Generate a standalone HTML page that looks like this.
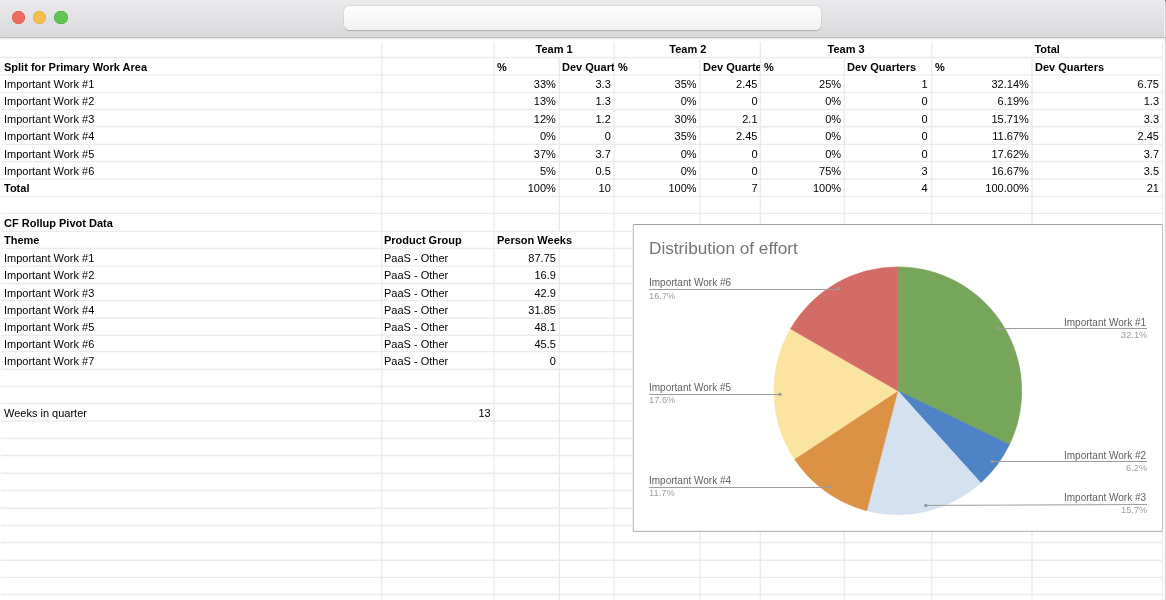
<!DOCTYPE html>
<html><head><meta charset="utf-8"><title>Sheet</title>
<style>
*{box-sizing:border-box;margin:0;padding:0}
html,body{width:1166px;height:600px;overflow:hidden;background:#fff}
body{position:relative;font-family:"Liberation Sans",sans-serif;-webkit-font-smoothing:antialiased}
.c,.ttl,.ln,.lp{will-change:transform}
.tb{position:absolute;left:0;top:0;width:1166px;height:38px;background:linear-gradient(#ebeaec,#d8d7d9);border-bottom:1px solid #bcbabd;box-shadow:0 0.5px 2px rgba(0,0,0,.13);z-index:5}
.dot{position:absolute;top:10.8px;width:13.4px;height:13.4px;border-radius:50%}
.addr{position:absolute;left:344px;top:6.2px;width:476.5px;height:24px;border-radius:5.5px;background:linear-gradient(#fdfdfd,#f0f0f0);box-shadow:0 0.5px 1px rgba(0,0,0,.18),0 0 0 0.5px rgba(0,0,0,.06)}
svg{position:absolute;left:0;top:0}
.c{position:absolute;font-size:11px;line-height:17.33px;height:17.33px;white-space:nowrap;color:#000}
.b{font-weight:bold}
.k{overflow:hidden}
.ttl{position:absolute;left:649px;top:236.7px;font-size:17.2px;color:#757575;white-space:nowrap;line-height:22px}
.ln{position:absolute;font-size:10px;color:#616161;white-space:nowrap;line-height:12px}
.lp{position:absolute;font-size:9.3px;color:#9e9e9e;white-space:nowrap;line-height:12px}
.r{text-align:right}
.edge{position:absolute;left:1164px;top:38px;width:2px;height:562px;background:#f7f7f7;border-right:1px solid #dcdcdc}
.tedge{position:absolute;left:1164px;top:0;width:2px;height:37px;background:#efeef1;border-right:1px solid #cfced3;z-index:6}
.tc{position:absolute;left:1165px;top:0;width:1px;height:2px;background:linear-gradient(#4f5a6e,#9aa0ab);z-index:7}
</style></head><body>
<div class="tb">
<div class="dot" style="left:11.7px;background:#ee6b60;box-shadow:inset 0 0 0 0.5px #d9544a"></div>
<div class="dot" style="left:32.8px;background:#f5bf4f;box-shadow:inset 0 0 0 0.5px #dba63a"></div>
<div class="dot" style="left:54.4px;background:#60c554;box-shadow:inset 0 0 0 0.5px #4cab40"></div>
<div class="addr"></div>
</div>
<div class="tedge"></div><div class="tc"></div>
<svg class="grid" width="1166" height="600" viewBox="0 0 1166 600"><g stroke="#eaecec" stroke-width="1.35"><line x1="1" y1="57.50" x2="1162.9" y2="57.50"/><line x1="1" y1="74.90" x2="1162.9" y2="74.90"/><line x1="1" y1="92.30" x2="1162.9" y2="92.30"/><line x1="1" y1="109.50" x2="1162.9" y2="109.50"/><line x1="1" y1="126.70" x2="1162.9" y2="126.70"/><line x1="1" y1="144.30" x2="1162.9" y2="144.30"/><line x1="1" y1="161.60" x2="1162.9" y2="161.60"/><line x1="1" y1="179.10" x2="1162.9" y2="179.10"/><line x1="1" y1="196.30" x2="1162.9" y2="196.30"/><line x1="1" y1="213.40" x2="1162.9" y2="213.40"/><line x1="1" y1="231.30" x2="1162.9" y2="231.30"/><line x1="1" y1="248.50" x2="1162.9" y2="248.50"/><line x1="1" y1="266.10" x2="1162.9" y2="266.10"/><line x1="1" y1="283.50" x2="1162.9" y2="283.50"/><line x1="1" y1="300.60" x2="1162.9" y2="300.60"/><line x1="1" y1="318.20" x2="1162.9" y2="318.20"/><line x1="1" y1="335.20" x2="1162.9" y2="335.20"/><line x1="1" y1="351.60" x2="1162.9" y2="351.60"/><line x1="1" y1="369.20" x2="1162.9" y2="369.20"/><line x1="1" y1="386.40" x2="1162.9" y2="386.40"/><line x1="1" y1="403.50" x2="1162.9" y2="403.50"/><line x1="1" y1="421.00" x2="1162.9" y2="421.00"/><line x1="1" y1="438.30" x2="1162.9" y2="438.30"/><line x1="1" y1="455.50" x2="1162.9" y2="455.50"/><line x1="1" y1="473.20" x2="1162.9" y2="473.20"/><line x1="1" y1="490.50" x2="1162.9" y2="490.50"/><line x1="1" y1="508.20" x2="1162.9" y2="508.20"/><line x1="1" y1="525.50" x2="1162.9" y2="525.50"/><line x1="1" y1="542.50" x2="1162.9" y2="542.50"/><line x1="1" y1="560.20" x2="1162.9" y2="560.20"/><line x1="1" y1="577.40" x2="1162.9" y2="577.40"/><line x1="1" y1="594.50" x2="1162.9" y2="594.50"/><line x1="381.80" y1="42.00" x2="381.80" y2="600.00"/><line x1="494.00" y1="42.00" x2="494.00" y2="600.00"/><line x1="559.30" y1="57.50" x2="559.30" y2="231.30"/><line x1="559.30" y1="248.50" x2="559.30" y2="600.00"/><line x1="614.00" y1="42.00" x2="614.00" y2="600.00"/><line x1="700.00" y1="57.50" x2="700.00" y2="600.00"/><line x1="760.30" y1="42.00" x2="760.30" y2="600.00"/><line x1="844.30" y1="57.50" x2="844.30" y2="600.00"/><line x1="931.70" y1="42.00" x2="931.70" y2="600.00"/><line x1="1032.00" y1="57.50" x2="1032.00" y2="600.00"/><line x1="1162.40" y1="42.00" x2="1162.40" y2="600.00"/></g></svg>
<div class="edge"></div>
<div class="c b" style="left:497.00px;width:114.20px;top:41.43px;text-align:center">Team 1</div><div class="c b" style="left:617.70px;width:139.60px;top:41.43px;text-align:center">Team 2</div><div class="c b" style="left:763.80px;width:164.30px;top:41.43px;text-align:center">Team 3</div><div class="c b" style="left:934.60px;width:224.30px;top:41.43px;text-align:center">Total</div><div class="c b" style="left:4.00px;top:58.83px">Split for Primary Work Area</div><div class="c b" style="left:497.00px;width:58.90px;top:58.83px;text-align:left">%</div><div class="c b k" style="left:562.40px;width:51.90px;top:58.83px;text-align:left">Dev Quarters</div><div class="c b" style="left:617.70px;width:78.60px;top:58.83px;text-align:left">%</div><div class="c b k" style="left:702.80px;width:57.20px;top:58.83px;text-align:left">Dev Quarters</div><div class="c b" style="left:763.80px;width:77.10px;top:58.83px;text-align:left">%</div><div class="c b" style="left:847.40px;width:80.70px;top:58.83px;text-align:left">Dev Quarters</div><div class="c b" style="left:934.60px;width:93.80px;top:58.83px;text-align:left">%</div><div class="c b" style="left:1034.90px;width:124.00px;top:58.83px;text-align:left">Dev Quarters</div><div class="c" style="left:4.00px;top:76.23px">Important Work #1</div><div class="c" style="left:497.00px;width:58.90px;top:76.23px;text-align:right">33%</div><div class="c" style="left:562.40px;width:48.80px;top:76.23px;text-align:right">3.3</div><div class="c" style="left:617.70px;width:78.60px;top:76.23px;text-align:right">35%</div><div class="c" style="left:702.80px;width:54.50px;top:76.23px;text-align:right">2.45</div><div class="c" style="left:763.80px;width:77.10px;top:76.23px;text-align:right">25%</div><div class="c" style="left:847.40px;width:80.70px;top:76.23px;text-align:right">1</div><div class="c" style="left:934.60px;width:93.80px;top:76.23px;text-align:right">32.14%</div><div class="c" style="left:1034.90px;width:124.00px;top:76.23px;text-align:right">6.75</div><div class="c" style="left:4.00px;top:93.43px">Important Work #2</div><div class="c" style="left:497.00px;width:58.90px;top:93.43px;text-align:right">13%</div><div class="c" style="left:562.40px;width:48.80px;top:93.43px;text-align:right">1.3</div><div class="c" style="left:617.70px;width:78.60px;top:93.43px;text-align:right">0%</div><div class="c" style="left:702.80px;width:54.50px;top:93.43px;text-align:right">0</div><div class="c" style="left:763.80px;width:77.10px;top:93.43px;text-align:right">0%</div><div class="c" style="left:847.40px;width:80.70px;top:93.43px;text-align:right">0</div><div class="c" style="left:934.60px;width:93.80px;top:93.43px;text-align:right">6.19%</div><div class="c" style="left:1034.90px;width:124.00px;top:93.43px;text-align:right">1.3</div><div class="c" style="left:4.00px;top:110.63px">Important Work #3</div><div class="c" style="left:497.00px;width:58.90px;top:110.63px;text-align:right">12%</div><div class="c" style="left:562.40px;width:48.80px;top:110.63px;text-align:right">1.2</div><div class="c" style="left:617.70px;width:78.60px;top:110.63px;text-align:right">30%</div><div class="c" style="left:702.80px;width:54.50px;top:110.63px;text-align:right">2.1</div><div class="c" style="left:763.80px;width:77.10px;top:110.63px;text-align:right">0%</div><div class="c" style="left:847.40px;width:80.70px;top:110.63px;text-align:right">0</div><div class="c" style="left:934.60px;width:93.80px;top:110.63px;text-align:right">15.71%</div><div class="c" style="left:1034.90px;width:124.00px;top:110.63px;text-align:right">3.3</div><div class="c" style="left:4.00px;top:128.23px">Important Work #4</div><div class="c" style="left:497.00px;width:58.90px;top:128.23px;text-align:right">0%</div><div class="c" style="left:562.40px;width:48.80px;top:128.23px;text-align:right">0</div><div class="c" style="left:617.70px;width:78.60px;top:128.23px;text-align:right">35%</div><div class="c" style="left:702.80px;width:54.50px;top:128.23px;text-align:right">2.45</div><div class="c" style="left:763.80px;width:77.10px;top:128.23px;text-align:right">0%</div><div class="c" style="left:847.40px;width:80.70px;top:128.23px;text-align:right">0</div><div class="c" style="left:934.60px;width:93.80px;top:128.23px;text-align:right">11.67%</div><div class="c" style="left:1034.90px;width:124.00px;top:128.23px;text-align:right">2.45</div><div class="c" style="left:4.00px;top:145.53px">Important Work #5</div><div class="c" style="left:497.00px;width:58.90px;top:145.53px;text-align:right">37%</div><div class="c" style="left:562.40px;width:48.80px;top:145.53px;text-align:right">3.7</div><div class="c" style="left:617.70px;width:78.60px;top:145.53px;text-align:right">0%</div><div class="c" style="left:702.80px;width:54.50px;top:145.53px;text-align:right">0</div><div class="c" style="left:763.80px;width:77.10px;top:145.53px;text-align:right">0%</div><div class="c" style="left:847.40px;width:80.70px;top:145.53px;text-align:right">0</div><div class="c" style="left:934.60px;width:93.80px;top:145.53px;text-align:right">17.62%</div><div class="c" style="left:1034.90px;width:124.00px;top:145.53px;text-align:right">3.7</div><div class="c" style="left:4.00px;top:163.03px">Important Work #6</div><div class="c" style="left:497.00px;width:58.90px;top:163.03px;text-align:right">5%</div><div class="c" style="left:562.40px;width:48.80px;top:163.03px;text-align:right">0.5</div><div class="c" style="left:617.70px;width:78.60px;top:163.03px;text-align:right">0%</div><div class="c" style="left:702.80px;width:54.50px;top:163.03px;text-align:right">0</div><div class="c" style="left:763.80px;width:77.10px;top:163.03px;text-align:right">75%</div><div class="c" style="left:847.40px;width:80.70px;top:163.03px;text-align:right">3</div><div class="c" style="left:934.60px;width:93.80px;top:163.03px;text-align:right">16.67%</div><div class="c" style="left:1034.90px;width:124.00px;top:163.03px;text-align:right">3.5</div><div class="c b" style="left:4.00px;top:180.23px">Total</div><div class="c" style="left:497.00px;width:58.90px;top:180.23px;text-align:right">100%</div><div class="c" style="left:562.40px;width:48.80px;top:180.23px;text-align:right">10</div><div class="c" style="left:617.70px;width:78.60px;top:180.23px;text-align:right">100%</div><div class="c" style="left:702.80px;width:54.50px;top:180.23px;text-align:right">7</div><div class="c" style="left:763.80px;width:77.10px;top:180.23px;text-align:right">100%</div><div class="c" style="left:847.40px;width:80.70px;top:180.23px;text-align:right">4</div><div class="c" style="left:934.60px;width:93.80px;top:180.23px;text-align:right">100.00%</div><div class="c" style="left:1034.90px;width:124.00px;top:180.23px;text-align:right">21</div><div class="c b" style="left:4.00px;top:215.23px">CF Rollup Pivot Data</div><div class="c b" style="left:4.00px;top:232.43px">Theme</div><div class="c b" style="left:384.00px;top:232.43px">Product Group</div><div class="c b" style="left:497.00px;top:232.43px">Person Weeks</div><div class="c" style="left:4.00px;top:250.03px">Important Work #1</div><div class="c" style="left:384.00px;top:250.03px">PaaS - Other</div><div class="c" style="left:497.00px;width:58.90px;top:250.03px;text-align:right">87.75</div><div class="c" style="left:4.00px;top:267.43px">Important Work #2</div><div class="c" style="left:384.00px;top:267.43px">PaaS - Other</div><div class="c" style="left:497.00px;width:58.90px;top:267.43px;text-align:right">16.9</div><div class="c" style="left:4.00px;top:284.53px">Important Work #3</div><div class="c" style="left:384.00px;top:284.53px">PaaS - Other</div><div class="c" style="left:497.00px;width:58.90px;top:284.53px;text-align:right">42.9</div><div class="c" style="left:4.00px;top:302.13px">Important Work #4</div><div class="c" style="left:384.00px;top:302.13px">PaaS - Other</div><div class="c" style="left:497.00px;width:58.90px;top:302.13px;text-align:right">31.85</div><div class="c" style="left:4.00px;top:319.13px">Important Work #5</div><div class="c" style="left:384.00px;top:319.13px">PaaS - Other</div><div class="c" style="left:497.00px;width:58.90px;top:319.13px;text-align:right">48.1</div><div class="c" style="left:4.00px;top:335.53px">Important Work #6</div><div class="c" style="left:384.00px;top:335.53px">PaaS - Other</div><div class="c" style="left:497.00px;width:58.90px;top:335.53px;text-align:right">45.5</div><div class="c" style="left:4.00px;top:353.13px">Important Work #7</div><div class="c" style="left:384.00px;top:353.13px">PaaS - Other</div><div class="c" style="left:497.00px;width:58.90px;top:353.13px;text-align:right">0</div><div class="c" style="left:4.00px;top:404.93px">Weeks in quarter</div><div class="c" style="left:384.80px;width:105.70px;top:404.93px;text-align:right">13</div>
<svg class="chart" width="1166" height="600" viewBox="0 0 1166 600"><rect x="633" y="224" width="530" height="308" fill="#fff"/><line x1="632" y1="224.5" x2="1163" y2="224.5" stroke="#a2a2a2"/><line x1="633" y1="531.5" x2="1163" y2="531.5" stroke="#b8b8b8"/><line x1="633" y1="530.5" x2="1163" y2="530.5" stroke="#f2f2f2"/><line x1="633.5" y1="224" x2="633.5" y2="532" stroke="#c4c4c4"/><line x1="632.5" y1="224" x2="632.5" y2="532" stroke="#ececec"/><line x1="1162.5" y1="224" x2="1162.5" y2="532" stroke="#c4c4c4"/><path d="M897.80,390.80 L897.80,266.90 A123.9,123.9 0 0 1 1009.44,444.54 Z" fill="#77a55a" stroke="#77a55a" stroke-width="0.6" stroke-linejoin="round"/><path d="M897.80,390.80 L1009.44,444.54 A123.9,123.9 0 0 1 980.72,482.86 Z" fill="#4e83c5" stroke="#4e83c5" stroke-width="0.6" stroke-linejoin="round"/><path d="M897.80,390.80 L980.72,482.86 A123.9,123.9 0 0 1 866.69,510.73 Z" fill="#d3e1f1" stroke="#d3e1f1" stroke-width="0.6" stroke-linejoin="round"/><path d="M897.80,390.80 L866.69,510.73 A123.9,123.9 0 0 1 794.41,459.08 Z" fill="#dc9245" stroke="#dc9245" stroke-width="0.6" stroke-linejoin="round"/><path d="M897.80,390.80 L794.41,459.08 A123.9,123.9 0 0 1 790.49,328.87 Z" fill="#fbe4a0" stroke="#fbe4a0" stroke-width="0.6" stroke-linejoin="round"/><path d="M897.80,390.80 L790.49,328.87 A123.9,123.9 0 0 1 897.80,266.90 Z" fill="#d36b67" stroke="#d36b67" stroke-width="0.6" stroke-linejoin="round"/><g stroke="#9c9c9c" stroke-width="1" fill="none"><polyline points="997.71,328.50 1147.00,328.50" /><polyline points="992.23,461.50 1147.00,461.50" /><polyline points="925.81,505.43 1147.00,504.50" /><polyline points="829.19,487.50 649.00,487.50" /><polyline points="779.85,394.50 649.00,394.50" /><polyline points="838.79,289.50 649.00,289.50" /></g><g fill="#999999"><circle cx="997.71" cy="328.01" r="1.7"/><circle cx="992.23" cy="461.56" r="1.7"/><circle cx="925.81" cy="505.43" r="1.7"/><circle cx="829.19" cy="486.81" r="1.7"/><circle cx="779.85" cy="394.36" r="1.7"/><circle cx="838.79" cy="288.62" r="1.7"/></g></svg>
<div class="ttl">Distribution of effort</div>
<div class="ln r" style="right:20px;top:317.00px">Important Work #1</div><div class="lp r" style="right:19px;top:329.25px">32.1%</div><div class="ln r" style="right:20px;top:449.75px">Important Work #2</div><div class="lp r" style="right:19px;top:461.75px">6.2%</div><div class="ln r" style="right:20px;top:491.75px">Important Work #3</div><div class="lp r" style="right:19px;top:504.25px">15.7%</div><div class="ln" style="left:649px;top:474.75px">Important Work #4</div><div class="lp" style="left:649px;top:486.90px">11.7%</div><div class="ln" style="left:649px;top:381.75px">Important Work #5</div><div class="lp" style="left:649px;top:394.10px">17.6%</div><div class="ln" style="left:649px;top:277.00px">Important Work #6</div><div class="lp" style="left:649px;top:289.50px">16.7%</div>
</body></html>
